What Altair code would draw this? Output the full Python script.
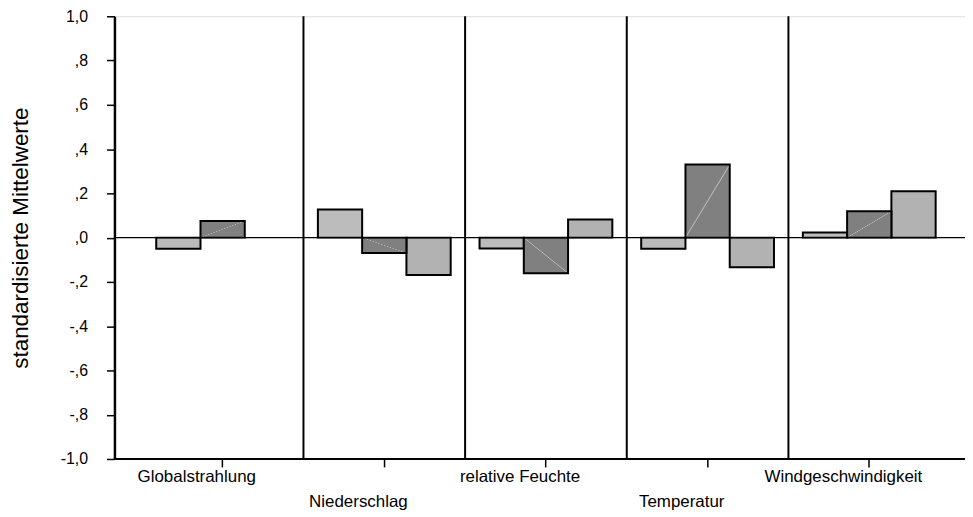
import altair as alt
import pandas as pd

variables = ["Globalstrahlung", "Niederschlag", "relative Feuchte", "Temperatur", "Windgeschwindigkeit"]
groups = ["Cluster 1", "Cluster 2", "Cluster 3"]
cluster1 = [-0.05, 0.127, -0.049, -0.05, 0.023]
cluster2 = [0.075, -0.07, -0.161, 0.33, 0.119]
cluster3 = [None, -0.169, 0.082, -0.134, 0.21]
y_ticks = [-1.0, -0.8, -0.6, -0.4, -0.2, 0.0, 0.2, 0.4, 0.6, 0.8, 1.0]
y_title = "standardisierte Mittelwerte"

rows = []
for i, v in enumerate(variables):
    for g, series in zip(groups, [cluster1, cluster2, cluster3]):
        if series[i] is not None:
            rows.append({"var": v, "grp": g, "value": series[i]})
df = pd.DataFrame(rows)

FONT = "Liberation Sans"
W, H = 855, 445

x_scale = alt.Scale(domain=variables, range=[27.5, 840], paddingInner=0, paddingOuter=0)
x_axis = alt.Axis(
    title=None, domain=False, grid=False, ticks=True, tickSize=8, tickWidth=1.5,
    tickColor="black", labelFontSize=17, labelColor="black", labelAngle=0,
    labelPadding=2, labelBaseline="top", labelLineHeight=25, labelAlign="center",
    labelOffset=-26, labelOverlap=False, labelBound=False, labelFont=FONT,
    labelExpr="indexof(['Niederschlag','Temperatur'], datum.label) >= 0 ? ['', datum.label] : datum.label",
)
y_scale = alt.Scale(domain=[-1, 1], nice=False)
y_axis = alt.Axis(
    values=y_ticks, grid=False, domainColor="black", domainWidth=2.5,
    tickSize=8, tickWidth=1.5, tickColor="black", labelFontSize=16,
    labelColor="black", labelPadding=19, labelFont=FONT,
    labelExpr="(datum.value < -0.001 ? '-' : '') + (abs(datum.value) > 0.99 ? '1,0' : ',' + round(abs(datum.value)*10))",
    title=y_title, titleFont=FONT, titleFontSize=22.5, titleFontWeight="normal",
    titleColor="black", titlePadding=28,
)

x_enc = alt.X("var:N", scale=x_scale, axis=x_axis)
xo_enc = alt.XOffset("grp:N", scale=alt.Scale(domain=groups, paddingOuter=0.326, paddingInner=0))
y_enc = alt.Y("value:Q", scale=y_scale, axis=y_axis)

def grad(x1, y1, x2, y2):
    base = "#808080"
    return {
        "gradient": "linear", "x1": x1, "y1": y1, "x2": x2, "y2": y2,
        "stops": [
            {"offset": 0, "color": base},
            {"offset": 0.488, "color": base},
            {"offset": 0.5, "color": "#bdbdbd"},
            {"offset": 0.512, "color": base},
            {"offset": 1, "color": base},
        ],
    }

base = alt.Chart(df).encode(x=x_enc, xOffset=xo_enc, y=y_enc)

bars13 = base.mark_bar(stroke="black", strokeWidth=2).encode(
    fill=alt.Fill("grp:N", scale=alt.Scale(domain=groups, range=["#bcbcbc", "#808080", "#b2b2b2"]), legend=None)
).transform_filter("datum.grp != 'Cluster 2'")

bars2pos = base.mark_bar(stroke="black", strokeWidth=2, fill=grad(0, 0, 1, 1)).transform_filter(
    "datum.grp == 'Cluster 2' && datum.value >= 0")
bars2neg = base.mark_bar(stroke="black", strokeWidth=2, fill=grad(0, 1, 1, 0)).transform_filter(
    "datum.grp == 'Cluster 2' && datum.value < 0")

zero_line = alt.Chart(pd.DataFrame({"v": [0.0]})).mark_rule(color="black", strokeWidth=1.5).encode(
    y=alt.Y("v:Q", scale=y_scale, axis=y_axis))
bottom_line = alt.Chart(pd.DataFrame({"v": [-1.0]})).mark_rule(color="black", strokeWidth=2).encode(
    y=alt.Y("v:Q", scale=y_scale, axis=y_axis))

separators = alt.Chart(pd.DataFrame({"var": variables[1:]})).mark_rule(color="black", strokeWidth=2).encode(
    x=alt.X("var:N", scale=x_scale, axis=x_axis, bandPosition=0))

chart = alt.layer(bars13, bars2pos, bars2neg, zero_line, bottom_line, separators).properties(
    width=W, height=H,
    padding={"left": 107, "top": 7, "right": 0, "bottom": 55},
    autosize="none",
).configure_view(stroke=None).configure(background="white")

chart.save("out.html", embed_options={"renderer": "svg", "actions": False})
